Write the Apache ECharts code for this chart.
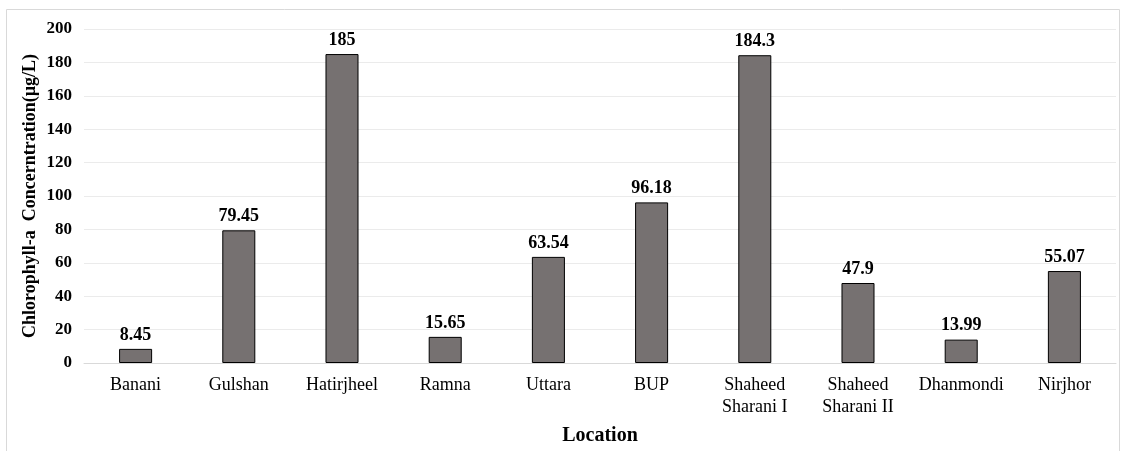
<!DOCTYPE html>
<html><head><meta charset="utf-8">
<script src="https://cdn.jsdelivr.net/npm/echarts@6/dist/echarts.min.js"></script>
<style>html,body{margin:0;padding:0;background:#fff}#c{width:1122px;height:451px}</style>
</head><body><div id="c"></div>
<script>
const categories = ['Banani','Gulshan','Hatirjheel','Ramna','Uttara','BUP','Shaheed\nSharani I','Shaheed\nSharani II','Dhanmondi','Nirjhor'];
const values = [8.45, 79.45, 185, 15.65, 63.54, 96.18, 184.3, 47.9, 13.99, 55.07];
const valueLabels = ['8.45','79.45','185','15.65','63.54','96.18','184.3','47.9','13.99','55.07'];
const yTicks = [0,20,40,60,80,100,120,140,160,180,200];
const font = '"Liberation Serif","Times New Roman",serif';
const chart = echarts.init(document.getElementById('c'));
chart.setOption({
  animation:false,
  graphic:[{type:'rect',shape:{x:6.5,y:9.5,width:1113,height:445},style:{fill:'none',stroke:'#d9d9d9',lineWidth:1},silent:true}],
  grid:{left:84,right:6,top:29,bottom:88,containLabel:false,outerBoundsMode:'none'},
  xAxis:{type:'category',data:categories,
    name:'Location',nameLocation:'middle',nameGap:63,
    nameTextStyle:{fontFamily:font,fontSize:20,fontWeight:'bold',color:'#000'},
    axisLine:{lineStyle:{color:'#d9d9d9'}},axisTick:{show:false},
    axisLabel:{fontFamily:font,fontSize:18,color:'#000',margin:11,lineHeight:22,interval:0}},
  yAxis:{type:'value',min:0,max:200,interval:20,
    name:'Chlorophyll-a  Concerntration(µg/L)',nameLocation:'middle',nameGap:45,nameRotate:90,
    nameMoveOverlap:false,
    nameTextStyle:{fontFamily:font,fontSize:18,fontWeight:'bold',color:'#000'},
    axisLine:{show:false},axisTick:{show:false},
    splitLine:{lineStyle:{color:'#ebebeb'}},
    axisLabel:{fontFamily:font,fontSize:17,fontWeight:'bold',color:'#000',margin:12,
      formatter:v=>yTicks.includes(v)?String(v):''}},
  series:[{type:'bar',data:values,barWidth:'32%',
    itemStyle:{color:'#767171',borderColor:'#000',borderWidth:1},
    label:{show:true,position:'top',distance:5,fontFamily:font,fontSize:18,fontWeight:'bold',color:'#000',
      formatter:p=>valueLabels[p.dataIndex]}}]
});
</script></body></html>
